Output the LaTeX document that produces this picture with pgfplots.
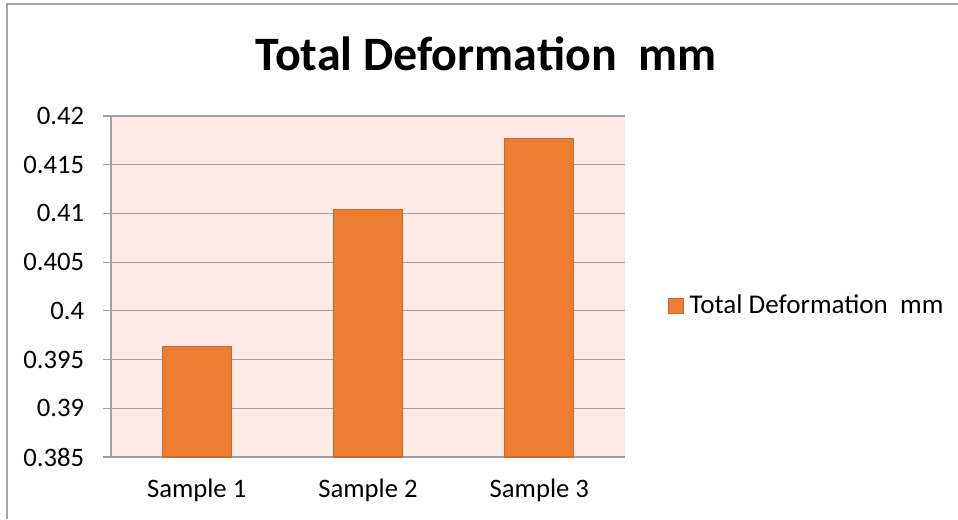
\documentclass[border=0pt]{standalone}
\usepackage{pgfplots}
\pgfplotsset{compat=1.18}
\usepackage{fontspec}
\setmainfont{Carlito}
\definecolor{barfill}{HTML}{ED7D31}
\definecolor{baredge}{HTML}{C8692D}
\definecolor{plotbg}{HTML}{FBEAE6}
\definecolor{gridc}{HTML}{A0A0A0}
\definecolor{framec}{HTML}{A6A6A6}
\begin{document}
\begin{tikzpicture}[x=0.75pt,y=0.75pt]
\path[use as bounding box] (0,0) rectangle (958,519);
\draw[framec, line width=1.1pt] (7,0) -- (7,515) -- (958,515);
\begin{axis}[
  at={(83.25pt,46.5pt)}, anchor=south west,
  scale only axis, width=385.5pt, height=255.75pt,
  xmin=-0.5, xmax=2.5, ymin=0.385, ymax=0.42,
  ybar, bar width=51.75pt,
  axis x line*=bottom, axis y line*=left,
  axis line style={gridc, line width=0.8pt},
  axis background/.style={fill=plotbg},
  ymajorgrids, grid style={gridc, line width=0.8pt},
  ytick={0.385,0.39,0.395,0.4,0.405,0.41,0.415,0.42},
  yticklabels={0.385,0.39,0.395,0.4,0.405,0.41,0.415,0.42},
  tick label style={font=\fontsize{20}{22}\selectfont, text=black},
  tick align=outside, major tick length=6pt,
  tick style={gridc, line width=0.8pt},
  xtick={0,1,2}, xticklabels={Sample 1,Sample 2,Sample 3},
  x tick style={draw=none},
  extra x ticks={-0.5,0.5,1.5,2.5}, extra x tick labels={},
  extra x tick style={tick style={draw=gridc, line width=0.8pt}, grid=none},
  xticklabel style={anchor=base, yshift=-24.5pt},
  yticklabel style={xshift=-14pt, inner sep=0pt, anchor=east},
  legend style={at={(1.0837,0.444)}, anchor=west, draw=none, fill=none,
    font=\fontsize{20.3}{22}\selectfont, inner sep=0pt,
    /tikz/every odd column/.append style={column sep=2pt}},
  legend image code/.code={\draw[#1] (0pt,-5.6pt) rectangle (11.25pt,5.6pt);},
  clip=true,
]
\addplot[fill=barfill, draw=baredge, line width=0.8pt] coordinates {(0,0.3963) (1,0.4104) (2,0.4177)};
\addlegendentry{Total Deformation\ \ mm}
\end{axis}
\node[anchor=base, font=\fontsize{36}{38}\selectfont\bfseries] at (486,448) {Total Deformation\ \ mm};
\end{tikzpicture}
\end{document}
